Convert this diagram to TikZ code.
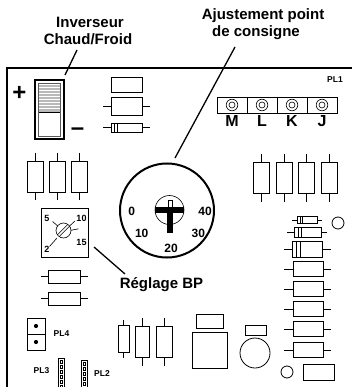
\documentclass[tikz,border=0pt]{standalone}
\usepackage{fontspec}
\setmainfont{Liberation Sans}
\begin{document}
\begin{tikzpicture}[x=1pt,y=-1pt,
  part/.style={draw=black, line width=0.8pt, fill=white},
  wire/.style={line width=0.8pt},
  thin/.style={line width=0.6pt},
  leader/.style={line width=1.3pt},
  board/.style={line width=2.2pt},
  lbl/.style={font=\fontsize{15}{17}\selectfont\bfseries, align=center, inner sep=0pt},
  pin/.style={font=\fontsize{16}{18}\selectfont\bfseries, inner sep=0pt},
  dig/.style={font=\fontsize{12}{14}\selectfont\bfseries, inner sep=0pt},
  potdig/.style={font=\fontsize{9}{10}\selectfont\bfseries, inner sep=0pt},
  pl/.style={font=\fontsize{8.5}{10}\selectfont\bfseries, inner sep=0pt},
  sign/.style={font=\fontsize{24}{26}\selectfont\bfseries, inner sep=0pt}
]
\useasboundingbox (0,0) rectangle (351,387);

% board outline
\draw[board] (7,390) -- (7,68) -- (355,68);

% titles
\node[lbl] (inv1) at (90,22) {Inverseur};
\node[lbl] (inv2) at (88,39) {Chaud/Froid};
\node[lbl] (aj1) at (263,16) {Ajustement point};
\node[lbl] (aj2) at (256,33) {de consigne};
\node[lbl] (bp) at (161.5,285) {Réglage BP};

% switch
\fill[gray!55] (38,83) rectangle (61,112);
\foreach \y in {84.5,87.5,...,110.5} \draw[white, line width=1pt] (38,\y) -- (61,\y);
\draw[thin] (38,112.5) -- (61,112.5);
\draw[gray!70!black, line width=0.7pt] (38.3,83) rectangle (60.7,136.5);
\draw[line width=2.6pt] (35,80) rectangle (64,139);
\node[sign] (plus) at (19.5,93) {+};
\node[sign] (minus) at (77.5,132) {–};
\coordinate (swtop) at (65,75);
\coordinate (invfoot) at (77,50);
\draw[leader] (invfoot) -- (swtop);

% top-left-middle parts
\draw[part] (111,77) rectangle (142,92);
\draw[wire] (103,106) -- (150,106);
\draw[part] (111,97) rectangle (142,115);
\draw[wire] (103,127.5) -- (150,127.5);
\draw[part] (111,123) rectangle (142,132);
\draw[thin] (114.3,123) -- (114.3,132) (117.3,123) -- (117.3,132);

% PL1 connector
\node[pl] (pl1) at (335,80) {PL1};
\draw[part] (217,97) rectangle (337,113);
\foreach \x in {247,277,307} \draw[wire] (\x,97) -- (\x,113);
\foreach \x/\t [count=\i] in {232/M,262/L,292/K,322/J} {
  \draw[thin] (\x,105) circle (5.8);
  \draw[thin] (\x,105) circle (3);
  \node[pin] (p\i) at (\x,121) {\t};
}

% left vertical resistors
\foreach \x in {35,57,79.5} {
  \draw[wire] (\x,153) -- (\x,200);
  \draw[part] (\x-8,161) rectangle (\x+8,192);
}
% right vertical resistors
\foreach \x in {261,284,306,329} {
  \draw[wire] (\x,154) -- (\x,202);
  \draw[part] (\x-8,162) rectangle (\x+8,193);
}

% big dial
\coordinate (ajfoot) at (235,47);
\coordinate (dialtop) at (175,158);
\draw[leader] (ajfoot) -- (dialtop);
\draw[line width=2pt] (167,210.5) circle (47);
\draw[thin] (169.5,210) circle (14.5);
\draw[thin] (168.3,200.5) rectangle (172.3,208);
\fill (155.3,207) rectangle (183.7,213);
\fill (167.3,208) rectangle (173,233);
\node[dig] (d0) at (131.7,211.5) {0};
\node[dig] (d10) at (141.7,233.5) {10};
\node[dig] (d20) at (171,248.5) {20};
\node[dig] (d30) at (198.3,233.5) {30};
\node[dig] (d40) at (205,211.5) {40};

% small pot box
\draw[line width=0.9pt] (41,208) rectangle (88,257);
\node[potdig] (q5) at (47,218) {5};
\node[potdig] (q10) at (81.5,218) {10};
\node[potdig] (q2) at (47,249.5) {2};
\node[potdig] (q15) at (81.5,242) {15};
\draw[thin] (63.5,230.5) circle (7.5);
\draw[thin] (52.5,221.5) -- (57.8,226);
\draw[thin] (75,221) -- (69.5,226);
\draw[thin] (71,230.3) -- (78.5,228.8);
\draw[thin] (49.5,246.5) -- (57,238);
\draw[thin] (59.2,236.6) -- (69.6,226.2);
\draw[thin] (57.4,234.8) -- (67.8,224.4);
\coordinate (potcorner) at (94,247);
\coordinate (bphead) at (125,274);
\draw[leader] (potcorner) -- (bphead);

% left horizontal resistors
\foreach \y in {276.5,298.5} {
  \draw[wire] (41,\y) -- (88,\y);
  \draw[part] (48,\y-6.5) rectangle (80,\y+6.5);
}

% PL4
\draw[part] (27,318) rectangle (45,350);
\draw[wire] (27,334) -- (45,334);
\fill (36,326) circle (2.1);
\fill (36,342) circle (2.1);
\node[pl] (pl4) at (61.5,334) {PL4};

% PL3 / PL2 strips
\foreach \x/\yt in {61/358,84/360} {
  \draw[thin] (\x-2.8,\yt) rectangle (\x+2.8,390);
  \foreach \k in {0,1,2,3,4,5} \draw[line width=0.45pt] (\x-1.2,\yt+2+\k*5) rectangle (\x+1.2,\yt+5+\k*5);
}
\node[pl] (pl3) at (41.5,371) {PL3};
\node[pl] (pl2) at (102,373.5) {PL2};

% bottom vertical resistors
\draw[wire] (123.8,320) -- (123.8,358);
\draw[part] (118.3,325) rectangle (129.3,352);
\draw[wire] (142,318) -- (142,366);
\draw[part] (135,326) rectangle (149.3,357);
\draw[wire] (164.7,318) -- (164.7,366);
\draw[part] (156.7,326) rectangle (172.7,357);

% bottom middle parts
\draw[part] (196,314) rectangle (223,328);
\draw[part] (192,332) rectangle (227,368);
\draw[part] (245,325) rectangle (266,335);
\draw[part] (255,353) circle (15);

% right diodes
\draw[wire] (292,220) -- (322,220);
\draw[part] (297,216.5) rectangle (317,223.5);
\draw[thin] (300.3,216.5) -- (300.3,223.5) (302.7,216.5) -- (302.7,223.5);
\draw[part] (338,223) circle (6);
\draw[wire] (287,232) -- (327,232);
\draw[part] (294,227) rectangle (321,237);
\draw[thin] (298.5,227) -- (298.5,237) (301,227) -- (301,237);
\draw[wire] (284,249.5) -- (331,249.5);
\draw[part] (292,241.5) rectangle (322.5,257.5);
\draw[thin] (296.5,241.5) -- (296.5,257.5) (300.5,241.5) -- (300.5,257.5);

% right horizontal resistors
\foreach \y in {269,289,309,329,350} {
  \draw[wire] (284,\y) -- (331,\y);
  \draw[part] (293,\y-7.5) rectangle (323,\y+7.5);
}

% bottom right
\draw[part] (287,372) circle (6);
\draw[part] (303,364) rectangle (334,380);
\end{tikzpicture}
\end{document}
